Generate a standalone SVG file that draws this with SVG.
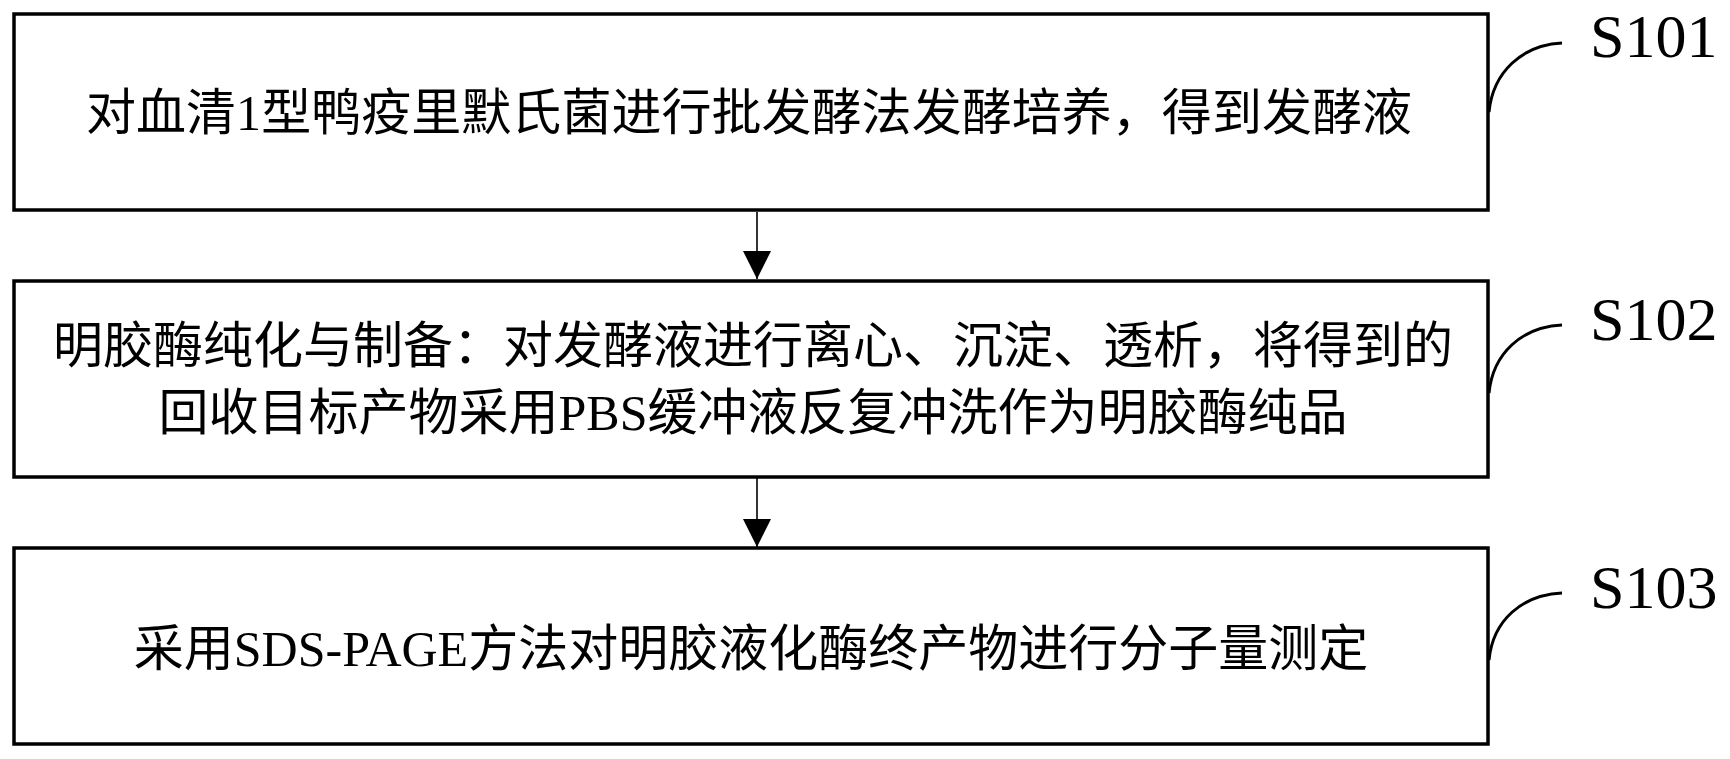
<svg xmlns="http://www.w3.org/2000/svg" width="1730" height="759" viewBox="0 0 1730 759">
<style>
.box{fill:#fff;stroke:#000;stroke-width:3.5}
.t{font-family:"Liberation Serif","Noto Sans CJK SC",serif;font-size:50px;fill:#000;text-anchor:middle}
.lbl{font-family:"Liberation Serif",serif;font-size:62px;fill:#000}
.lead{fill:none;stroke:#000;stroke-width:3}
.arr{stroke:#000;stroke-width:1.6;fill:none}
</style>
<defs>
<marker id="ah" markerUnits="userSpaceOnUse" markerWidth="30" markerHeight="30" refX="28" refY="14" orient="auto" viewBox="0 0 30 28">
<path d="M0,0 L28,14 L0,28 Z" fill="#000"/>
</marker>
</defs>
<rect width="1730" height="759" fill="#fff"/>
<g id="connectors">
<line class="arr" x1="757" y1="212" x2="757" y2="279" marker-end="url(#ah)"/>
<line class="arr" x1="757" y1="478" x2="757" y2="547" marker-end="url(#ah)"/>
</g>
<g id="S101">
<rect class="box" x="14" y="14" width="1474" height="196"/>
<text class="t" x="749" y="130" textLength="1326" lengthAdjust="spacing">对血清1型鸭疫里默氏菌进行批发酵法发酵培养，得到发酵液</text>
<path class="lead" d="M1489,112 C1493,72 1522,45 1562,43"/>
<text class="lbl" x="1590" y="57">S101</text>
</g>
<g id="S102">
<rect class="box" x="14" y="281" width="1474" height="196"/>
<text class="t" x="753" y="363">明胶酶纯化与制备：对发酵液进行离心、沉淀、透析，将得到的</text>
<text class="t" x="753" y="430">回收目标产物采用PBS缓冲液反复冲洗作为明胶酶纯品</text>
<path class="lead" d="M1489,393 C1493,353 1522,327 1562,325"/>
<text class="lbl" x="1590" y="340">S102</text>
</g>
<g id="S103">
<rect class="box" x="14" y="548" width="1474" height="196"/>
<text class="t" x="751" y="666">采用SDS-PAGE方法对明胶液化酶终产物进行分子量测定</text>
<path class="lead" d="M1489,660 C1493,620 1522,595 1562,593"/>
<text class="lbl" x="1590" y="608">S103</text>
</g>
</svg>
